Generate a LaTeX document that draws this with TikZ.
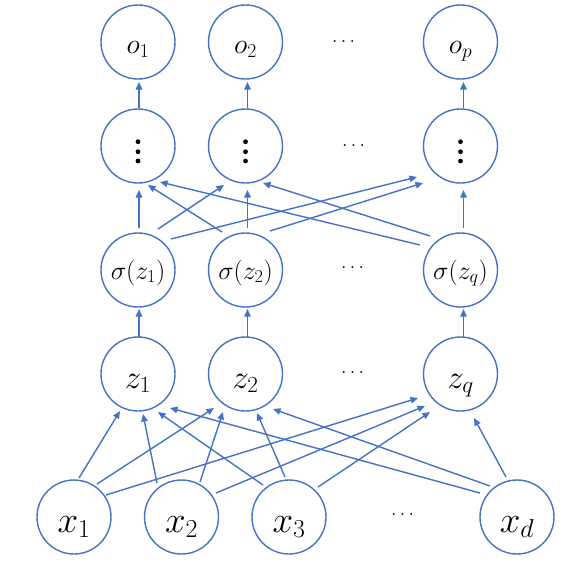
\RequirePackage{fix-cm}
\documentclass[tikz,border=0pt]{standalone}
\usetikzlibrary{arrows.meta,calc}
\definecolor{nnblue}{RGB}{68,114,196}
\newcommand\fs[1]{\fontsize{#1}{#1}\selectfont}
\begin{document}
\begin{tikzpicture}[x=1pt,y=-1pt,
  neuron/.style={circle,draw=nnblue,line width=1.4pt,minimum size=74pt,inner sep=0pt},
  conn/.style={draw=nnblue,line width=1.4pt,-{Triangle[length=7.5pt,width=6.5pt]}},
  lbl/.style={anchor=base,inner sep=0pt,text=black},
  hdots/.style={inner sep=0pt,font=\fs{20}}]
\useasboundingbox (0,0) rectangle (565,563);
% neurons
\node[neuron] (o1) at (138,42) {};
\node[neuron] (o2) at (245.5,42) {};
\node[neuron] (op) at (460.5,42) {};
\node[neuron] (d1) at (138,146) {};
\node[neuron] (d2) at (245.5,146) {};
\node[neuron] (dp) at (460.5,146) {};
\node[neuron] (s1) at (138,270) {};
\node[neuron] (s2) at (245.5,270) {};
\node[neuron] (sq) at (460.5,270) {};
\node[neuron] (z1) at (138,374) {};
\node[neuron] (z2) at (245.5,374) {};
\node[neuron] (zq) at (460.5,374) {};
\node[neuron] (x1) at (74,517) {};
\node[neuron] (x2) at (181.5,517) {};
\node[neuron] (x3) at (289,517) {};
\node[neuron] (xd) at (517,517) {};
% labels
\node[lbl] (lo1) at ($(o1)+(0,11)$) {\fs{28}$o_1$};
\node[lbl] (lo2) at ($(o2)+(0,11)$) {\fs{28}$o_2$};
\node[lbl] (lop) at ($(op)+(0,11)$) {\fs{28}$o_p$};
\foreach \n in {d1,d2,dp}{
  \fill (\n) ++(0,-4.3) circle (2.4);
  \fill (\n) ++(0,5.7) circle (2.4);
  \fill (\n) ++(0,15) circle (2.4);
}
\node[lbl] (ls1) at ($(s1)+(0,9)$) {\fs{26}$\sigma(z_1)$};
\node[lbl] (ls2) at ($(s2)+(0,9)$) {\fs{26}$\sigma(z_2)$};
\node[lbl] (lsq) at ($(sq)+(0,9)$) {\fs{26}$\sigma(z_q)$};
\node[lbl] (lz1) at ($(z1)+(0,14)$) {\fs{33}$z_1$};
\node[lbl] (lz2) at ($(z2)+(0,14)$) {\fs{33}$z_2$};
\node[lbl] (lzq) at ($(zq)+(0,14)$) {\fs{33}$z_q$};
\node[lbl] (lx1) at ($(x1)+(0,15)$) {\fs{37}$x_1$};
\node[lbl] (lx2) at ($(x2)+(0,15)$) {\fs{37}$x_2$};
\node[lbl] (lx3) at ($(x3)+(0,15)$) {\fs{37}$x_3$};
\node[lbl] (lxd) at ($(xd)+(0,15)$) {\fs{37}$x_d$};
% horizontal ellipses
\node[hdots] (e1) at (343.5,42) {$\ldots$};
\node[hdots] (e2) at (353.5,146) {$\ldots$};
\node[hdots] (e3) at (352.5,268) {$\ldots$};
\node[hdots] (e4) at (352.5,373) {$\ldots$};
\node[hdots] (e5) at (402.5,515) {$\ldots$};
% vertical connectors
\draw[conn] ($(d1)+(1,-38)$) -- ($(o1)+(1,40)$);
\draw[conn] ($(d2)+(2,-38)$) -- ($(o2)+(2,40)$);
\draw[conn] ($(dp)+(3,-38)$) -- ($(op)+(3,40)$);
\draw[conn] ($(s1)+(1,-42)$) -- ($(d1)+(1,44)$);
\draw[conn] ($(s2)+(2,-42)$) -- ($(d2)+(2,44)$);
\draw[conn] ($(sq)+(3,-42)$) -- ($(dp)+(3,44)$);
\draw[conn] ($(z1)+(1,-37)$) -- ($(s1)+(1,39)$);
\draw[conn] ($(z2)+(2,-37)$) -- ($(s2)+(2,39)$);
\draw[conn] ($(zq)+(3,-37)$) -- ($(sq)+(3,39)$);
% sigma -> hidden
\draw[conn] ($(s1)+(20,-41)$) -- ($(d2)+(-21.5,39)$);
\draw[conn] ($(s1)+(33,-31)$) -- ($(dp)+(-43.5,31)$);
\draw[conn] ($(s2)+(-23.5,-38)$) -- ($(d1)+(10,39)$);
\draw[conn] ($(s2)+(24.5,-39)$) -- ($(dp)+(-37.5,37)$);
\draw[conn] ($(sq)+(-40.5,-25)$) -- ($(d1)+(22,36)$);
\draw[conn] ($(sq)+(-30.5,-34)$) -- ($(d2)+(17.5,37)$);
% inputs -> z
\draw[conn] ($(x1)+(5,-39)$) -- ($(z1)+(-18,37)$);
\draw[conn] ($(x1)+(23,-33)$) -- ($(z2)+(-31.5,34)$);
\draw[conn] ($(x1)+(32,-22)$) -- ($(zq)+(-42.5,24)$);
\draw[conn] ($(x2)+(-24.5,-34)$) -- ($(z1)+(5,40)$);
\draw[conn] ($(x2)+(18.5,-35)$) -- ($(z2)+(-22.5,38)$);
\draw[conn] ($(x2)+(34.5,-24)$) -- ($(zq)+(-35.5,32)$);
\draw[conn] ($(x3)+(-26,-32)$) -- ($(z1)+(20,38)$);
\draw[conn] ($(x3)+(-4,-40)$) -- ($(z2)+(11.5,39)$);
\draw[conn] ($(x3)+(29,-30)$) -- ($(zq)+(-30.5,38)$);
\draw[conn] ($(xd)+(-37,-24)$) -- ($(z1)+(32,34)$);
\draw[conn] ($(xd)+(-27,-31)$) -- ($(z2)+(27.5,35)$);
\draw[conn] ($(xd)+(-11,-40)$) -- ($(zq)+(13.5,44)$);
\end{tikzpicture}
\end{document}
